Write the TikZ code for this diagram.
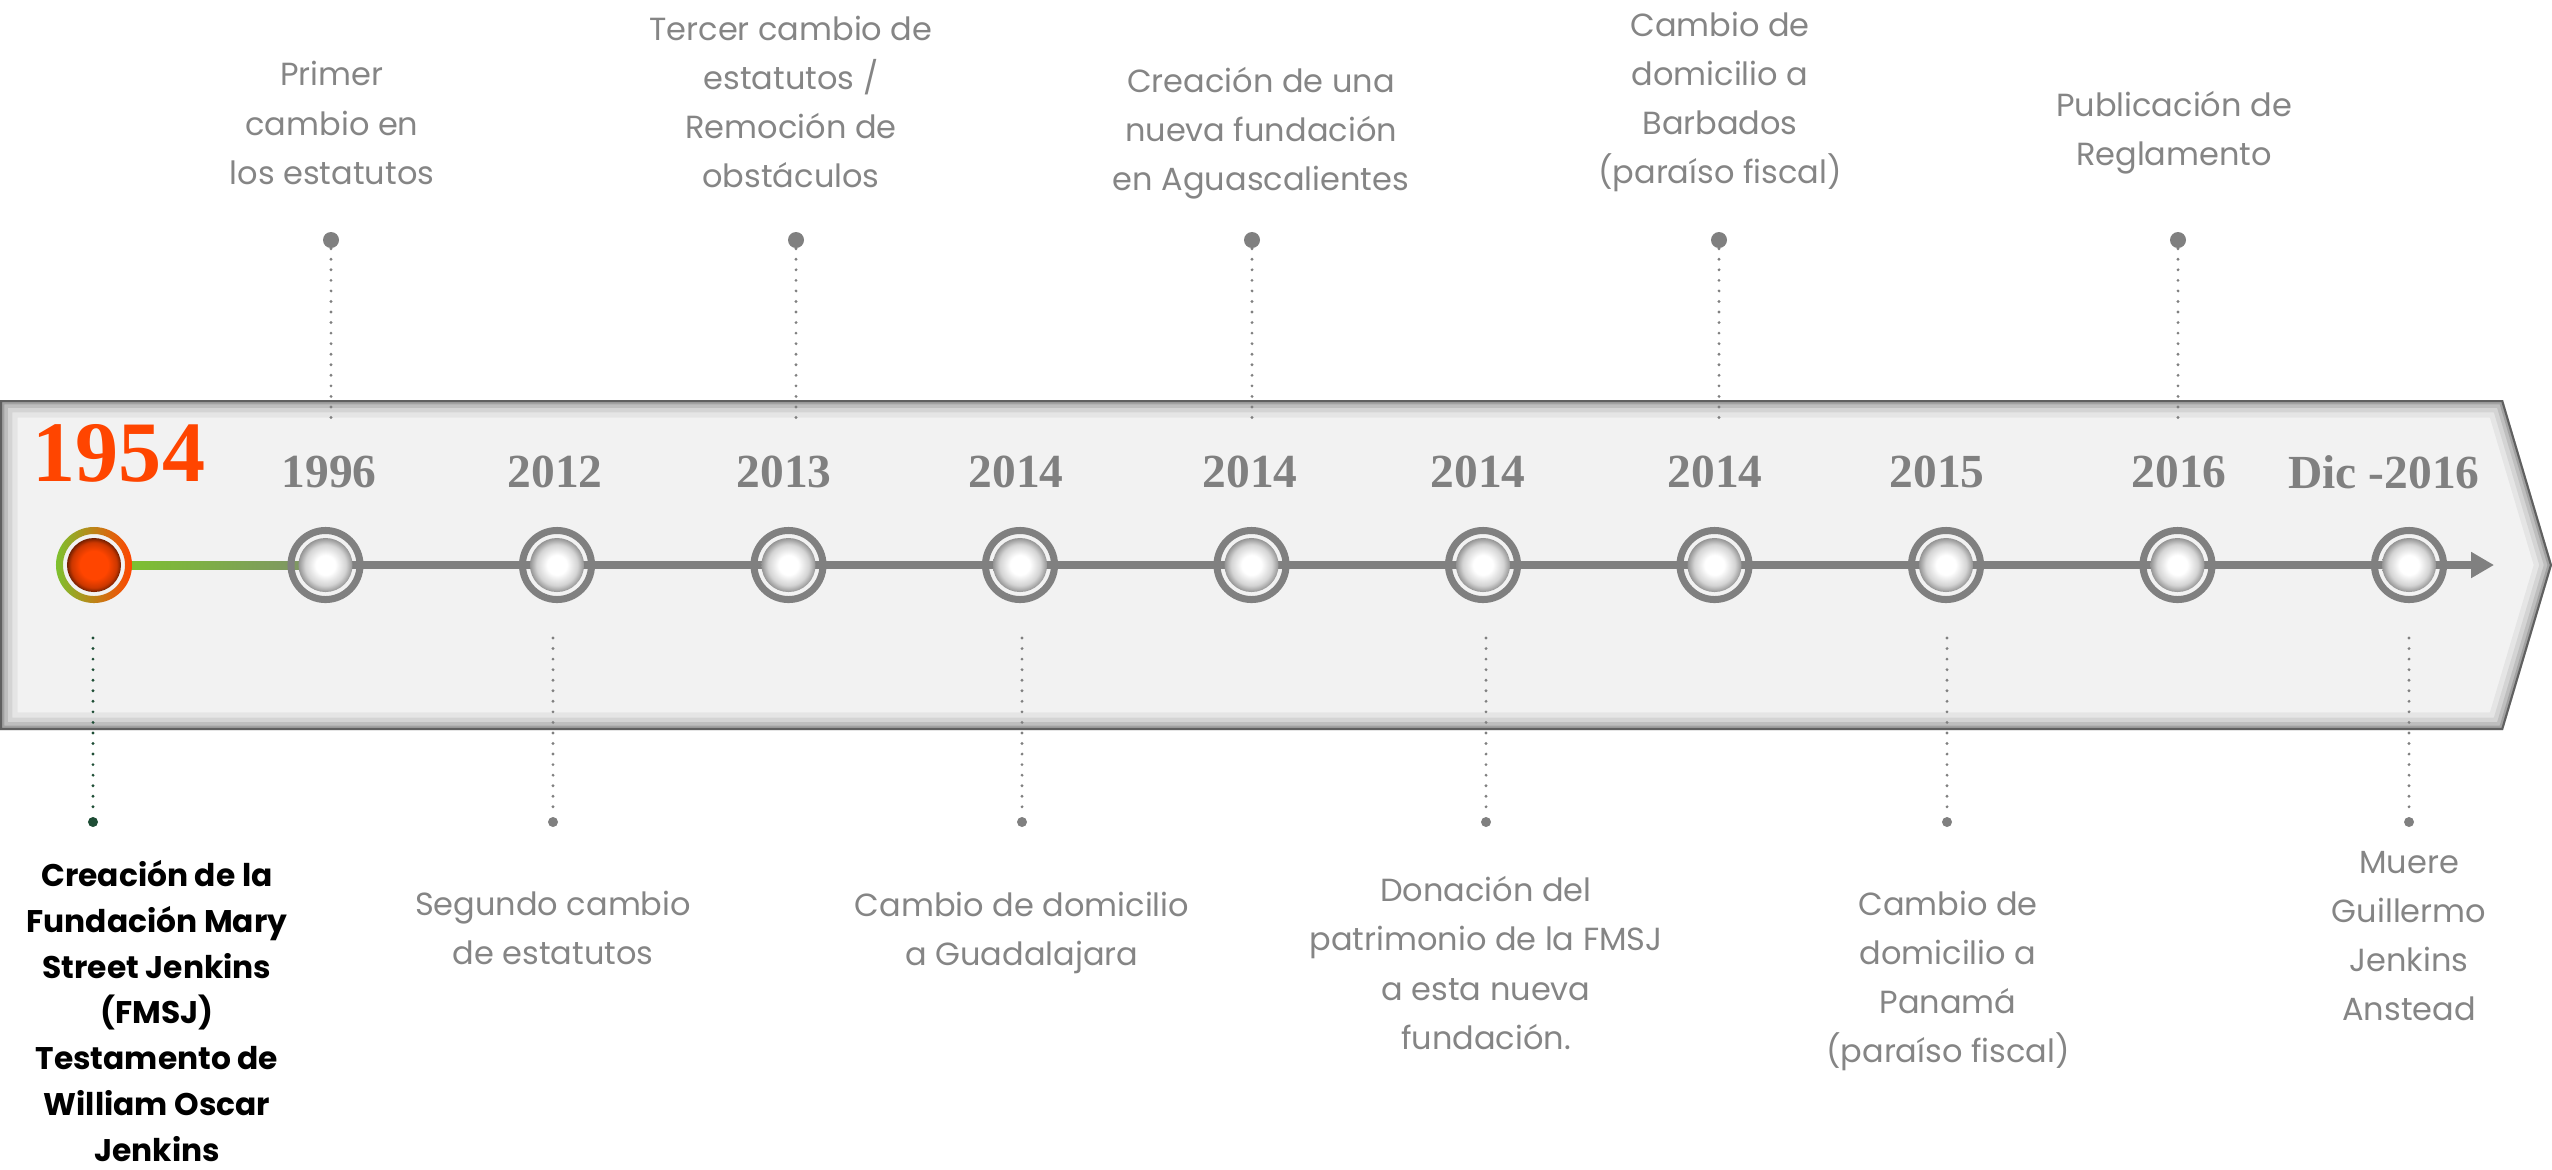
\documentclass[tikz,border=0pt]{standalone}
\usepackage{fontspec}
\setmainfont{Poppins}
\newfontfamily\yearfont{Liberation Serif}
\usetikzlibrary{arrows.meta}
\usetikzlibrary{positioning}
\definecolor{tlgray}{HTML}{808080}
\definecolor{txtgray}{HTML}{858585}
\definecolor{bandfill}{HTML}{F2F2F2}
\definecolor{hotorange}{HTML}{FF4500}
\definecolor{leafgreen}{HTML}{7DC12F}
\definecolor{pinegreen}{HTML}{1E4D35}
\pgfdeclareradialshading{whiteball}{\pgfpointorigin}{color(0bp)=(white); color(9bp)=(white); color(19bp)=(black!17); color(25bp)=(black!42); color(50bp)=(black!42)}
\pgfdeclareradialshading{redball}{\pgfpointorigin}{color(0bp)=(hotorange); color(13bp)=(hotorange); color(21bp)=(hotorange!80!black); color(25bp)=(hotorange!45!black); color(50bp)=(hotorange!45!black)}
\tikzset{
  yr/.style={font=\yearfont\bfseries\fontsize{13.5}{15}\selectfont, text=tlgray, inner sep=0},
  desc/.style={font=\fontsize{9.1}{14}\selectfont, text=txtgray, align=center, inner sep=0},
  ring/.style={draw=tlgray, line width=2pt},
  tick/.style={tlgray, line width=0.9pt, dash pattern=on 0pt off 3pt, line cap=round},
  pin/.style={circle, fill=tlgray, inner sep=0, minimum size=0.16cm},
  lowpin/.style={circle, fill=tlgray, inner sep=0, minimum size=0.1cm},
}

\begin{document}
\begin{tikzpicture}[x=0.01cm, y=-0.01cm]
\useasboundingbox (0,0) rectangle (2552,1169);
% band
\path[fill=bandfill] (0,400) -- (2503,400) -- (2552,565) -- (2503,730) -- (0,730) -- cycle;
\begin{scope}
\clip (0,400) -- (2503,400) -- (2552,565) -- (2503,730) -- (0,730) -- cycle;
\foreach \w/\o in {10/0.05, 7/0.07, 4.5/0.1, 2.5/0.15, 1.2/0.4}
  \draw[black, line width=\w pt, opacity=\o] (0,400) -- (2503,400) -- (2552,565) -- (2503,730) -- (0,730) -- cycle;
\end{scope}

\foreach \i in {1,...,11} \coordinate (ev\i) at ({94+231.5*(\i-1)},565);
\coordinate (tip) at (2494,565);

% axis
\draw[tlgray, line width=2.3pt, -{Triangle[length=6.5pt,width=7pt]}] (ev2) -- (tip);
\shade[left color=leafgreen, right color=leafgreen!35!tlgray] (126,561) rectangle (300,569);

% events
\shade[even odd rule, left color=leafgreen, right color=hotorange] (ev1) circle[radius=0.38cm] (ev1) circle[radius=0.31cm];
\shade[shading=redball] (ev1) circle[radius=0.27cm];
\foreach \i in {2,...,11} {
  \draw[ring] (ev\i) circle[radius=0.345cm];
  \shade[shading=whiteball] (ev\i) circle[radius=0.27cm];
}

% years
\node[yr, text=hotorange, font=\yearfont\bfseries\fontsize{24.5}{26}\selectfont] (yr1) at (119,453) {1954};
\foreach \x/\t [count=\i from 2] in {329/1996, 555/2012, 784/2013, 1016/2014, 1250/2014, 1478/2014, 1715/2014, 1937/2015, 2179/2016, 2384/Dic -2016}
  \node[yr] (yr\i) at (\x,472) {\t};

% pins above
\foreach \x [count=\i] in {331, 796, 1252, 1719, 2178} {
  \node[pin] (pt\i) at (\x,240) {};
  \coordinate (et\i) at (\x,425);
  \draw[tick] (pt\i) -- (et\i);
}
% pins below
\foreach \x [count=\i] in {553, 1022, 1486, 1947, 2409} {
  \node[lowpin] (pb\i) at (\x,822) {};
  \coordinate (eb\i) at (\x,638);
  \draw[tick] (eb\i) -- (pb\i);
}
\node[lowpin, fill=pinegreen] (pb0) at (93,822) {};
\coordinate (eb0) at (93,638);
\draw[tick, pinegreen] (eb0) -- (pb0);

% texts above
\node[desc] (lab2) at (332,123) {Primer\\cambio en\\los estatutos};
\node[desc] (lab4) at (791,102) {Tercer cambio de\\estatutos /\\Remoción de\\obstáculos};
\node[desc] (lab6) at (1261,133) {Creación de una\\nueva fundación\\en Aguascalientes};
\node[desc] (lab8) at (1720,102) {Cambio de\\domicilio a\\Barbados\\(paraíso fiscal)};
\node[desc] (lab10) at (2174,133) {Publicación de\\Reglamento};

% texts below
\node[desc, text=black, font=\bfseries\fontsize{8.9}{13}\selectfont] (lab1) at (157,1011) {Creación de la\\Fundación Mary\\Street Jenkins\\(FMSJ)\\Testamento de\\William Oscar\\Jenkins};
\node[desc] (lab3) at (553,928) {Segundo cambio\\de estatutos};
\node[desc] (lab5) at (1022,933) {Cambio de domicilio\\a Guadalajara};
\node[desc] (lab7) at (1486,963) {Donación del\\patrimonio de la FMSJ\\a esta nueva\\fundación.};
\node[desc] (lab9) at (1948,981) {Cambio de\\domicilio a\\Panamá\\(paraíso fiscal)};
\node[desc] (lab11) at (2409,936) {Muere\\Guillermo\\Jenkins\\Anstead};
\end{tikzpicture}
\end{document}
